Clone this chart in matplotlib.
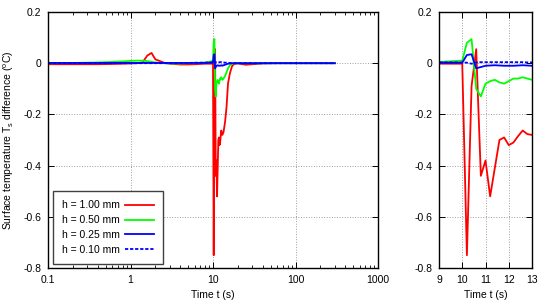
import matplotlib
matplotlib.use("Agg")
import matplotlib.pyplot as plt
from matplotlib.ticker import FixedLocator, FixedFormatter, LogLocator, NullFormatter

plt.rcParams['font.family'] = ['Liberation Sans', 'DejaVu Sans']
plt.rcParams['font.size'] = 7.5

# time points (s)
t = [0.1, 0.2, 0.4, 0.6, 0.8, 1.0, 1.2, 1.4, 1.6, 1.8, 2.0, 2.2, 2.4, 2.6, 3.0,
     4.0, 5.0, 6.0, 8.0, 9.0, 9.4, 9.8, 10.0, 10.2, 10.4, 10.6, 10.8, 11.0, 11.2,
     11.4, 11.6, 11.8, 12.0, 12.2, 12.4, 12.6, 12.8, 13.0, 13.4, 14.0, 14.6, 15.2,
     16.0, 17.0, 18.0, 20.0, 25.0, 30.0, 40.0, 60.0, 100.0, 200.0, 300.0]

h100 = [-0.004, -0.004, -0.004, -0.003, -0.002, -0.001, 0.0, 0.003, 0.03, 0.04, 0.015,
        0.01, 0.005, 0.001, -0.002, -0.005, -0.005, -0.004, -0.002, -0.002, -0.002,
        -0.002, -0.002, -0.75, -0.09, 0.055, -0.44, -0.38, -0.52, -0.41, -0.30, -0.29,
        -0.32, -0.31, -0.285, -0.263, -0.277, -0.28, -0.27, -0.23, -0.17, -0.08, -0.04,
        -0.012, -0.003, -0.001, -0.006, -0.004, -0.001, 0.0, 0.0, 0.0, 0.0]

h050 = [0.0, 0.001, 0.003, 0.005, 0.007, 0.009, 0.01, 0.01, 0.008, 0.005, 0.003,
        0.002, 0.001, 0.0, -0.001, -0.001, 0.0, 0.0, 0.003, 0.005, 0.007, 0.009,
        0.01, 0.08, 0.094, -0.10, -0.13, -0.08, -0.07, -0.065, -0.075, -0.08, -0.07,
        -0.06, -0.06, -0.055, -0.06, -0.065, -0.06, -0.05, -0.035, -0.02, -0.008,
        -0.002, 0.0, 0.0, 0.0, 0.0, 0.0, 0.0, 0.0, 0.0, 0.0]

h025 = [0.001, 0.001, 0.001, 0.001, 0.001, 0.001, 0.001, 0.001, 0.001, 0.001, 0.001,
        0.001, 0.001, 0.001, 0.001, 0.001, 0.001, 0.001, 0.001, 0.002, 0.002, 0.002,
        0.002, 0.032, 0.035, -0.02, -0.015, -0.01, -0.009, -0.008, -0.009, -0.01, -0.01,
        -0.01, -0.009, -0.008, -0.009, -0.01, -0.008, -0.006, -0.004, -0.002, -0.001,
        0.0, 0.0, 0.0, 0.0, 0.0, 0.0, 0.0, 0.0, 0.0, 0.0]

h010 = [0.0, 0.0, 0.0, 0.0, 0.0, 0.0, 0.0, 0.0, 0.0, 0.0, 0.0,
        0.0, 0.0, 0.0, 0.0, 0.001, 0.001, 0.002, 0.002, 0.003, 0.003, 0.003,
        0.003, 0.002, -0.002, 0.003, 0.004, 0.004, 0.004, 0.004, 0.004, 0.004, 0.004,
        0.004, 0.004, 0.004, 0.003, 0.003, 0.003, 0.002, 0.002, 0.001, 0.001,
        0.0, 0.0, 0.0, 0.0, 0.0, 0.0, 0.0, 0.0, 0.0, 0.0]

labels = ["h = 1.00 mm", "h = 0.50 mm", "h = 0.25 mm", "h = 0.10 mm"]
yticks = [0.2, 0.0, -0.2, -0.4, -0.6, -0.8]
ytick_labels = ["0.2", "0", "-0.2", "-0.4", "-0.6", "-0.8"]
xticks_log = [0.1, 1, 10, 100, 1000]
xtick_log_labels = ["0.1", "1", "10", "100", "1000"]
xticks_lin = [9, 10, 11, 12, 13]
xtick_lin_labels = ["9", "10", "11", "12", "13"]

fig = plt.figure(figsize=(5.5, 3.0), dpi=100)
ax1 = fig.add_axes([48/550, 1-268/300, 330/550, 256/300])
ax2 = fig.add_axes([439/550, 1-268/300, 93/550, 256/300])

styles = [dict(color='#ff0000', ls='-'), dict(color='#00ff00', ls='-'),
          dict(color='#0000ff', ls='-'), dict(color='#0000ff', ls=(0, (1.8, 1.0)))]
series = [h100, h050, h025, h010]

for ax in (ax1, ax2):
    for s, st, lab in zip(series, styles, labels):
        ax.plot(t, s, lw=1.3, label=lab, **st)
    ax.set_ylim(-0.8, 0.2)
    ax.yaxis.set_major_locator(FixedLocator(yticks))
    ax.yaxis.set_major_formatter(FixedFormatter(ytick_labels))
    ax.grid(True, color='#a0a0a0', ls=':', lw=0.7)
    ax.set_axisbelow(True)
    ax.tick_params(which='both', direction='in', top=True, right=True, colors='black')
    ax.tick_params(which='major', length=4, width=0.7, pad=5)
    ax.tick_params(which='minor', length=2, width=0.6)
    for sp in ax.spines.values():
        sp.set_linewidth(1.0)
    ax.set_xlabel("Time t (s)", labelpad=4)

ax1.set_xscale('log')
ax1.set_xlim(0.1, 1000)
ax1.xaxis.set_major_locator(FixedLocator(xticks_log))
ax1.xaxis.set_major_formatter(FixedFormatter(xtick_log_labels))
ax1.xaxis.set_minor_locator(LogLocator(base=10, subs=range(2, 10), numticks=20))
ax1.xaxis.set_minor_formatter(NullFormatter())
ax1.set_ylabel("Surface temperature T$_\\mathregular{s}$ difference ($^\\mathregular{o}$C)", labelpad=5)

ax2.set_xlim(9, 13)
ax2.xaxis.set_major_locator(FixedLocator(xticks_lin))
ax2.xaxis.set_major_formatter(FixedFormatter(xtick_lin_labels))

leg = ax1.legend(loc='lower left', bbox_to_anchor=(0.015, 0.016), markerfirst=False,
                 fancybox=False, framealpha=1, edgecolor='#404040', handlelength=2.7,
                 labelspacing=0.45, borderpad=0.9, handletextpad=0.5, fontsize=7.5,
                 borderaxespad=0)
leg.get_frame().set_linewidth(1.0)

fig.savefig("out.png", dpi=100)
